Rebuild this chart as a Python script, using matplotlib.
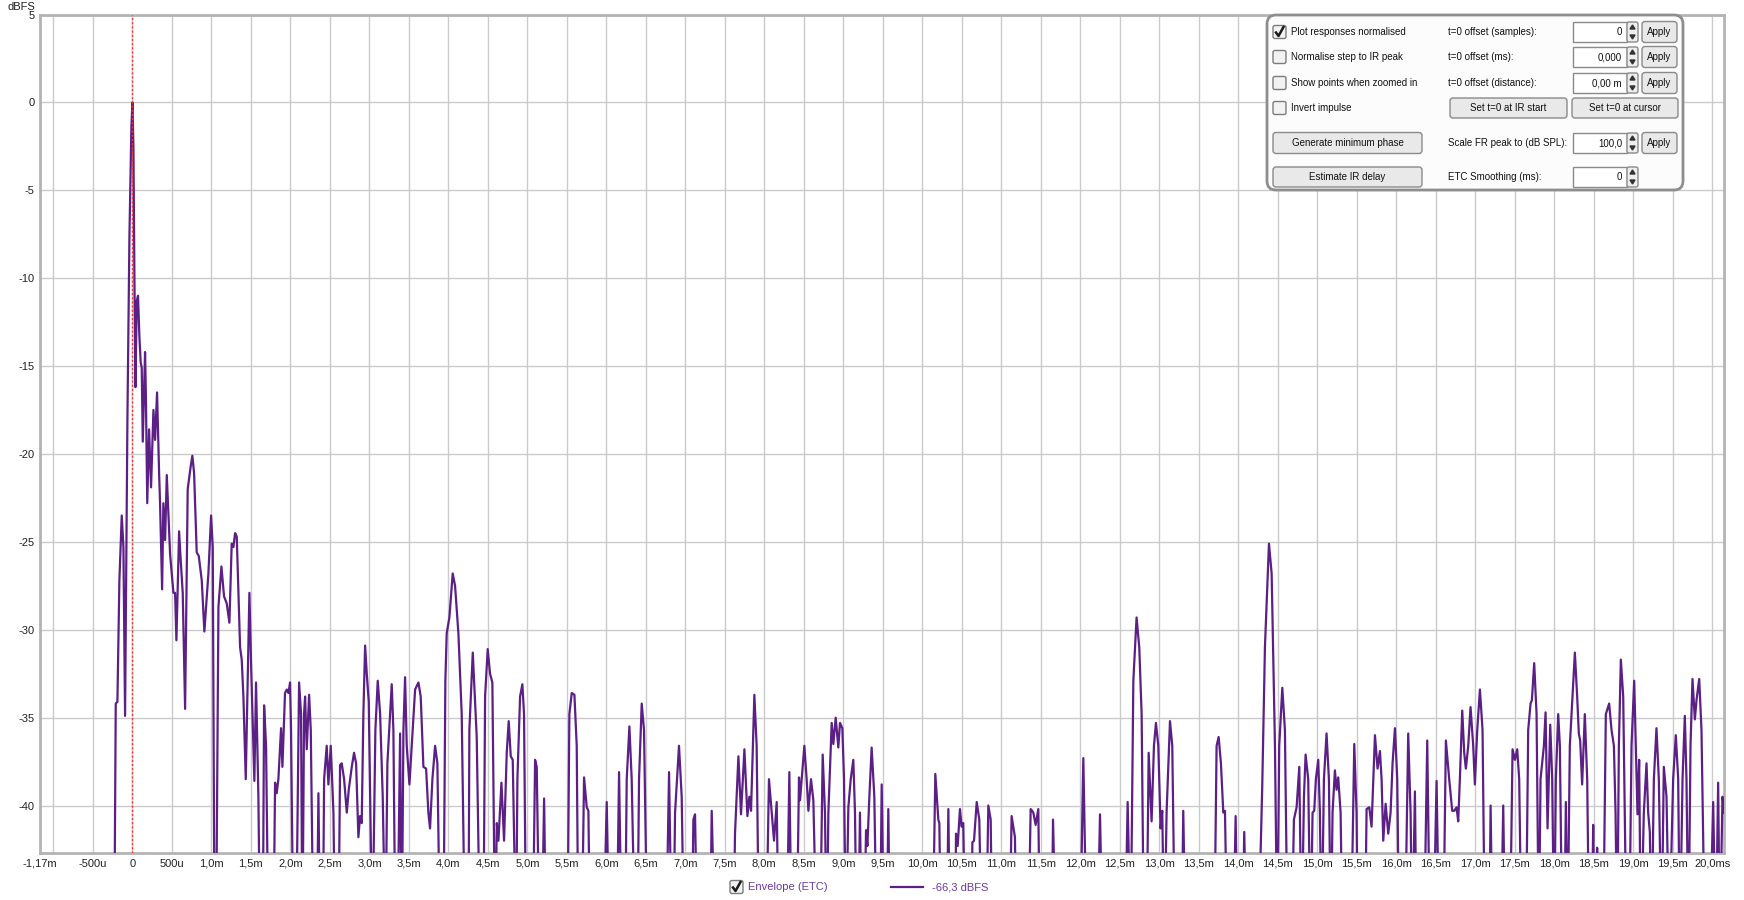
import numpy as np
import matplotlib.pyplot as plt
from matplotlib.patches import FancyBboxPatch, Polygon

# Envelope (ETC) readings: (time in ms, level in dBFS); -48 means "below the plot floor"
etc_early = [
    (-1.17, -48), (-0.23, -48), (-0.211, -34.2), (-0.19, -34.1), (-0.165, -27.2), (-0.135, -23.5),
    (-0.114, -25.3), (-0.093, -34.9), (-0.063, -17.9), (-0.038, -7.7), (-0.013, -1.4), (0.0, 0.0),
    (0.013, -2.6), (0.025, -9.7), (0.038, -16.2), (0.055, -11.3), (0.071, -11.0), (0.088, -13.3),
    (0.105, -14.8), (0.118, -15.1), (0.131, -19.3), (0.160, -14.2), (0.170, -16.5), (0.188, -22.8),
    (0.211, -18.6), (0.236, -21.9), (0.266, -17.5), (0.287, -19.2), (0.312, -16.5), (0.338, -21.1),
    (0.350, -22.8), (0.376, -27.7), (0.392, -22.8), (0.414, -24.9), (0.435, -21.2), (0.477, -25.7),
    (0.519, -27.9), (0.540, -27.9), (0.557, -30.6), (0.591, -24.4), (0.612, -26.1), (0.637, -27.9),
    (0.667, -34.5), (0.700, -22.0), (0.717, -21.4), (0.738, -20.7), (0.759, -20.1), (0.781, -21.1),
    (0.814, -25.6), (0.840, -25.8), (0.878, -27.2), (0.911, -30.1), (0.962, -26.8), (0.996, -23.5),
    (1.017, -25.3), (1.040, -48), (1.059, -48), (1.089, -28.7), (1.127, -26.4), (1.160, -28.1),
    (1.194, -28.5), (1.228, -29.6), (1.257, -25.1), (1.278, -25.3), (1.300, -24.5), (1.321, -24.7),
    (1.363, -31.0), (1.384, -31.7), (1.405, -33.8), (1.435, -38.5), (1.460, -32.9), (1.481, -27.9),
    (1.502, -31.9), (1.544, -38.6), (1.565, -33.0), (1.595, -39.5), (1.616, -48), (1.650, -48),
    (1.667, -34.3), (1.692, -36.6), (1.722, -48), (1.785, -48), (1.806, -38.7), (1.827, -39.3),
    (1.848, -38.5), (1.882, -35.6), (1.899, -37.8), (1.932, -33.6), (1.954, -33.4), (1.975, -33.6),
    (1.996, -33.0), (2.008, -35.7), (2.038, -48), (2.072, -48),
]
etc_2_4ms = [
    (2.110, -33.0), (2.135, -34.8), (2.152, -48), (2.173, -34.8), (2.186, -33.8), (2.207, -36.8),
    (2.237, -33.7), (2.258, -35.7), (2.292, -48), (2.334, -48), (2.355, -39.3), (2.376, -48),
    (2.410, -48), (2.427, -38.5), (2.460, -36.6), (2.481, -38.8), (2.511, -36.6), (2.545, -40.4),
    (2.566, -48), (2.608, -48), (2.629, -37.7), (2.650, -37.6), (2.680, -38.5), (2.714, -40.4),
    (2.739, -39.1), (2.777, -37.8), (2.806, -37.0), (2.832, -37.6), (2.861, -41.8), (2.882, -40.6),
    (2.903, -41.0), (2.924, -34.8), (2.946, -30.9), (2.967, -32.5), (2.992, -34.1), (3.038, -48),
    (3.076, -35.7), (3.106, -32.9), (3.136, -34.8), (3.169, -39.5), (3.203, -48), (3.228, -37.6),
    (3.283, -33.1), (3.304, -35.7), (3.330, -48), (3.355, -48), (3.389, -35.9), (3.410, -48),
    (3.431, -35.7), (3.452, -32.7), (3.473, -36.6), (3.507, -38.8), (3.536, -36.6), (3.579, -33.4),
    (3.621, -33.0), (3.650, -33.8), (3.684, -37.8), (3.718, -37.9), (3.747, -40.4), (3.768, -41.3),
    (3.798, -38.5), (3.832, -36.6), (3.861, -37.6), (3.895, -48), (3.937, -48), (3.962, -32.9),
    (3.979, -30.2), (4.013, -29.3), (4.055, -26.8), (4.085, -27.5), (4.127, -30.2), (4.169, -34.8),
    (4.211, -48),
]
etc_4_8ms = [
    (4.254, -48), (4.266, -35.7), (4.309, -31.3), (4.359, -36.1), (4.401, -48), (4.443, -48),
    (4.465, -33.8), (4.498, -31.1), (4.528, -32.5), (4.557, -33.0), (4.592, -48), (4.613, -41.0),
    (4.634, -42.0), (4.672, -38.7), (4.705, -42.0), (4.739, -37.0), (4.764, -35.2), (4.790, -37.2),
    (4.815, -37.4), (4.857, -48), (4.874, -38.5), (4.908, -33.8), (4.937, -33.1), (4.958, -34.8),
    (4.984, -48), (5.068, -48), (5.098, -37.4), (5.119, -37.8), (5.152, -48), (5.182, -48),
    (5.212, -39.6), (5.237, -48), (5.507, -48), (5.532, -34.8), (5.562, -33.6), (5.596, -33.7),
    (5.625, -36.6), (5.646, -48), (5.688, -48), (5.718, -38.4), (5.752, -40.1), (5.773, -40.3),
    (5.794, -48), (5.962, -48), (6.005, -39.8), (6.038, -48), (6.131, -48), (6.161, -38.1),
    (6.195, -48), (6.237, -48), (6.258, -38.5), (6.292, -35.5), (6.321, -38.5), (6.363, -48),
    (6.393, -48), (6.414, -38.5), (6.448, -34.2), (6.477, -35.7), (6.519, -48), (6.756, -48),
    (6.794, -38.1), (6.828, -48), (6.849, -48), (6.870, -40.4), (6.920, -36.6), (6.954, -39.5),
    (6.984, -48), (7.081, -48), (7.102, -40.8), (7.123, -40.5), (7.152, -48), (7.313, -48),
    (7.334, -40.3), (7.376, -48), (7.608, -48), (7.629, -41.6), (7.672, -37.2), (7.705, -40.5),
    (7.748, -36.8), (7.786, -40.6), (7.811, -39.5), (7.832, -40.3), (7.874, -33.7), (7.903, -36.6),
    (7.933, -48), (8.022, -48), (8.059, -38.5), (8.093, -40.4), (8.123, -42.0), (8.157, -39.8),
    (8.182, -48),
]
etc_8_13ms = [
    (8.283, -48), (8.317, -38.1), (8.347, -48), (8.410, -48), (8.439, -38.4), (8.452, -39.7),
    (8.473, -38.5), (8.507, -36.6), (8.536, -38.5), (8.558, -40.3), (8.591, -38.5), (8.621, -39.7),
    (8.663, -48), (8.705, -48), (8.739, -37.1), (8.768, -40.4), (8.790, -48), (8.811, -40.4),
    (8.853, -35.3), (8.874, -36.5), (8.904, -35.0), (8.937, -36.7), (8.958, -35.3), (8.988, -35.6),
    (9.009, -38.5), (9.034, -48), (9.064, -40.1), (9.094, -38.5), (9.127, -37.4), (9.148, -40.4),
    (9.169, -48), (9.190, -48), (9.211, -40.4), (9.233, -48), (9.262, -48), (9.288, -41.4),
    (9.305, -42.3), (9.330, -39.5), (9.359, -36.7), (9.393, -39.5), (9.423, -48), (9.465, -48),
    (9.486, -38.8), (9.515, -48), (9.549, -48), (9.570, -40.2), (9.591, -48), (10.131, -48),
    (10.165, -38.2), (10.203, -40.8), (10.216, -41.0), (10.237, -48), (10.309, -48), (10.330, -40.2),
    (10.351, -48), (10.414, -48), (10.427, -41.6), (10.448, -42.3), (10.477, -40.2), (10.498, -41.2),
    (10.519, -41.0), (10.545, -48), (10.625, -48), (10.634, -42.1), (10.655, -42.0), (10.689, -39.8),
    (10.722, -40.8), (10.752, -48), (10.807, -48), (10.836, -40.0), (10.866, -40.8), (10.887, -48),
    (11.102, -48), (11.131, -40.6), (11.173, -41.8), (11.194, -48), (11.342, -48), (11.372, -40.2),
    (11.406, -40.4), (11.435, -41.1), (11.469, -40.2), (11.490, -48), (11.638, -48), (11.655, -40.8),
    (11.693, -48), (11.997, -48), (12.039, -37.3), (12.081, -48), (12.216, -48), (12.250, -40.5),
    (12.283, -48), (12.566, -48), (12.600, -39.8), (12.638, -48), (12.672, -32.9), (12.713, -29.3),
]
etc_13_16ms = [
    (12.747, -31.0), (12.777, -34.8), (12.806, -48), (12.840, -48), (12.866, -37.0), (12.903, -40.9),
    (12.933, -36.6), (12.958, -35.3), (12.988, -36.6), (13.017, -41.3), (13.038, -40.3), (13.064, -48),
    (13.093, -40.4), (13.136, -35.2), (13.165, -36.6), (13.199, -48), (13.283, -48), (13.304, -40.3),
    (13.334, -48), (13.697, -48), (13.726, -36.6), (13.752, -36.1), (13.781, -37.6), (13.811, -40.4),
    (13.832, -40.3), (13.861, -48), (13.937, -48), (13.967, -40.6), (13.992, -48), (14.055, -48),
    (14.076, -41.5), (14.106, -48), (14.254, -48), (14.304, -38.9), (14.338, -31.0), (14.389, -25.1),
    (14.423, -26.8), (14.465, -36.6), (14.494, -48), (14.519, -36.6), (14.558, -33.3), (14.591, -35.7),
    (14.625, -48), (14.676, -48), (14.705, -40.8), (14.739, -40.1), (14.773, -37.8), (14.802, -48),
    (14.832, -39.5), (14.853, -37.1), (14.886, -38.5), (14.916, -48), (14.941, -40.4), (14.962, -40.3),
    (14.983, -38.5), (15.013, -37.4), (15.034, -40.4), (15.055, -48), (15.085, -38.5), (15.118, -35.9),
    (15.148, -38.5), (15.173, -48), (15.194, -40.4), (15.224, -38.0), (15.245, -39.1), (15.266, -38.4),
    (15.296, -40.4), (15.321, -48), (15.427, -48), (15.469, -36.5), (15.498, -40.4), (15.515, -48),
    (15.604, -48), (15.625, -40.2), (15.659, -40.1), (15.688, -41.2), (15.710, -38.5), (15.731, -36.0),
    (15.764, -37.9), (15.794, -36.9), (15.815, -38.5), (15.836, -42.0), (15.866, -39.9), (15.899, -41.6),
    (15.929, -40.4), (15.954, -37.6), (15.984, -35.6), (16.013, -38.5), (16.038, -48), (16.110, -48),
    (16.152, -35.9), (16.182, -40.4), (16.203, -48), (16.237, -39.2), (16.258, -48),
]
etc_late = [
    (16.351, -48), (16.393, -36.3), (16.427, -48), (16.469, -48), (16.511, -38.6), (16.545, -48),
    (16.595, -48), (16.629, -36.3), (16.671, -38.5), (16.709, -40.3), (16.735, -40.3), (16.764, -40.1),
    (16.785, -40.9), (16.806, -38.5), (16.836, -34.6), (16.861, -37.0), (16.882, -37.9), (16.912, -36.6),
    (16.941, -34.4), (16.975, -36.6), (16.996, -38.8), (17.026, -35.7), (17.060, -33.4), (17.093, -35.7),
    (17.123, -48), (17.178, -48), (17.195, -40.0), (17.220, -48), (17.325, -48), (17.355, -40.0),
    (17.380, -48), (17.439, -48), (17.473, -36.8), (17.503, -37.4), (17.532, -36.8), (17.557, -38.5),
    (17.587, -48), (17.642, -48), (17.671, -35.7), (17.701, -34.2), (17.718, -34.0), (17.747, -31.9),
    (17.777, -34.8), (17.806, -48), (17.827, -38.5), (17.870, -36.6), (17.891, -34.7), (17.916, -41.3),
    (17.950, -35.4), (17.975, -38.5), (18.000, -48), (18.021, -38.5), (18.051, -34.8), (18.072, -36.6),
    (18.102, -48), (18.127, -48), (18.148, -39.8), (18.169, -48), (18.198, -36.6), (18.232, -33.8),
    (18.262, -31.3), (18.291, -33.8), (18.312, -35.9), (18.329, -36.3), (18.354, -38.8), (18.388, -34.8),
    (18.418, -38.5), (18.443, -48), (18.473, -48), (18.494, -41.1), (18.515, -48), (18.544, -42.4),
    (18.561, -48), (18.620, -48), (18.654, -34.8), (18.696, -34.2), (18.726, -35.7), (18.756, -36.6),
    (18.777, -40.4), (18.798, -48), (18.819, -36.6), (18.844, -31.7), (18.874, -33.8), (18.916, -48),
    (18.950, -48), (18.979, -36.6), (19.013, -32.9), (19.034, -36.6), (19.055, -40.5), (19.076, -37.4),
    (19.097, -48), (19.135, -40.4), (19.169, -37.6), (19.190, -40.4), (19.211, -41.5), (19.232, -48),
    (19.262, -38.5), (19.295, -35.6), (19.325, -38.5), (19.359, -48), (19.388, -37.8), (19.422, -39.5),
    (19.456, -48), (19.506, -38.5), (19.540, -36.0), (19.570, -38.5), (19.591, -48), (19.625, -38.5),
    (19.654, -34.9), (19.675, -38.5), (19.700, -48), (19.726, -36.6), (19.751, -32.8), (19.781, -35.1),
    (19.802, -34.0), (19.836, -32.8), (19.865, -35.7), (19.908, -48), (19.970, -48), (20.013, -39.8),
    (20.046, -48), (20.076, -38.7), (20.097, -48), (20.131, -39.5), (20.152, -40.4),
]

ytick_values = [5, 0, -5, -10, -15, -20, -25, -30, -35, -40]
xtick_values = [-1.17, -1.0, -0.5, 0.0, 0.5, 1.0, 1.5, 2.0, 2.5, 3.0, 3.5, 4.0, 4.5, 5.0, 5.5, 6.0,
                6.5, 7.0, 7.5, 8.0, 8.5, 9.0, 9.5, 10.0, 10.5, 11.0, 11.5, 12.0, 12.5, 13.0, 13.5,
                14.0, 14.5, 15.0, 15.5, 16.0, 16.5, 17.0, 17.5, 18.0, 18.5, 19.0, 19.5, 20.0]
xtick_labels = ["-1,17m", "", "-500u", "0", "500u", "1,0m", "1,5m", "2,0m", "2,5m", "3,0m", "3,5m",
                "4,0m", "4,5m", "5,0m", "5,5m", "6,0m", "6,5m", "7,0m", "7,5m", "8,0m", "8,5m",
                "9,0m", "9,5m", "10,0m", "10,5m", "11,0m", "11,5m", "12,0m", "12,5m", "13,0m",
                "13,5m", "14,0m", "14,5m", "15,0m", "15,5m", "16,0m", "16,5m", "17,0m", "17,5m",
                "18,0m", "18,5m", "19,0m", "19,5m", "20,0ms"]

TRACE = '#5b1f86'
W, H = 1744, 900
PANEL_FS = 7.0

plt.rcParams['font.family'] = ['Liberation Sans', 'DejaVu Sans']
plt.rcParams['font.size'] = 8

etc = etc_early + etc_2_4ms + etc_4_8ms + etc_8_13ms + etc_13_16ms + etc_late
t_ms = np.array([p[0] for p in etc])
level_db = np.array([p[1] for p in etc])

fig = plt.figure(figsize=(W / 100, H / 100), dpi=100, facecolor='white')
ax = fig.add_axes([40 / W, 1 - 853 / H, (1724 - 40) / W, (853 - 14.5) / H])

ax.plot(t_ms, level_db, color=TRACE, lw=1.6, solid_joinstyle='round', zorder=3)
ax.axvline(0, color='#ff3030', lw=1, ls=(0, (1.5, 1.5)), zorder=4)

ax.set_xlim(-1.17, 20.15)
ax.set_ylim(-42.7, 5)
ax.set_xticks(xtick_values)
ax.set_xticklabels(xtick_labels)
ax.set_yticks(ytick_values)
ax.set_yticklabels([str(v) for v in ytick_values])
ax.grid(True, color='#cbcbcb', lw=1)
ax.set_axisbelow(True)
ax.tick_params(length=0, labelsize=8, colors='#222222', pad=4)
for s in ax.spines.values():
    s.set_color('#b4b4b4')
    s.set_linewidth(2)

fig.text(35 / W, 1 - 7 / H, 'dBFS', ha='right', va='center', color='#222222')

# overlay in pixel coordinates for the control panel and legend
ui = fig.add_axes([0, 0, 1, 1], zorder=5)
ui.set_xlim(0, W)
ui.set_ylim(H, 0)
ui.axis('off')


def rbox(x0, y0, x1, y1, fc, ec, r=3, lw=1.0):
    ui.add_patch(FancyBboxPatch((x0, y0), x1 - x0, y1 - y0,
                                boxstyle=f"round,pad=0,rounding_size={r}",
                                fc=fc, ec=ec, lw=lw))


def checkbox(x, yc, checked):
    rbox(x, yc - 6.5, x + 13, yc + 6.5, '#f2f2f2', '#7c7c7c', r=2, lw=1)
    if checked:
        ui.plot([x + 3, x + 5.5, x + 10.5], [yc + 0.5, yc + 4, yc - 5], color='#1a1a1a', lw=1.8)


def button(x0, x1, yc, h, label):
    rbox(x0, yc - h / 2, x1, yc + h / 2, '#e9e9e9', '#8a8a8a', r=3)
    ui.text((x0 + x1) / 2, yc, label, ha='center', va='center', color='#111111', fontsize=PANEL_FS)


def spinbox(yc, value):
    ui.add_patch(plt.Rectangle((1573, yc - 10), 54, 20, fc='white', ec='#8a8a8a', lw=1))
    rbox(1627, yc - 10, 1638, yc + 10, '#eeeeee', '#8a8a8a', r=2)
    ui.add_patch(Polygon([(1630, yc - 3), (1635, yc - 3), (1632.5, yc - 7)], color='#333333'))
    ui.add_patch(Polygon([(1630, yc + 3), (1635, yc + 3), (1632.5, yc + 7)], color='#333333'))
    ui.text(1622, yc, value, ha='right', va='center', color='#111111', fontsize=PANEL_FS)


rbox(1267, 15, 1683, 190, '#fcfcfc', '#8e8e8e', r=9, lw=2)

check_rows = [("Plot responses normalised", True, 32), ("Normalise step to IR peak", False, 57),
              ("Show points when zoomed in", False, 83), ("Invert impulse", False, 108)]
for label, checked, yc in check_rows:
    checkbox(1273, yc, checked)
    ui.text(1291, yc, label, ha='left', va='center', color='#111111', fontsize=PANEL_FS)

spin_rows = [("t=0 offset (samples):", "0", True, 32), ("t=0 offset (ms):", "0,000", True, 57),
             ("t=0 offset (distance):", "0,00 m", True, 83),
             ("Scale FR peak to (dB SPL):", "100,0", True, 143),
             ("ETC Smoothing (ms):", "0", False, 177)]
for label, value, has_apply, yc in spin_rows:
    ui.text(1448, yc, label, ha='left', va='center', color='#111111', fontsize=PANEL_FS)
    spinbox(yc, value)
    if has_apply:
        button(1642, 1677, yc, 21, "Apply")

button(1450, 1567, 108, 20, "Set t=0 at IR start")
button(1572, 1678, 108, 20, "Set t=0 at cursor")
button(1273, 1422, 143, 21, "Generate minimum phase")
button(1273, 1422, 177, 20, "Estimate IR delay")

# legend under the plot
checkbox(730, 887, True)
ui.text(748, 887, "Envelope (ETC)", ha='left', va='center', color='#6a3a9c')
ui.plot([891, 923], [887, 887], color=TRACE, lw=1.6)
ui.text(932, 887, "-66,3 dBFS", ha='left', va='center', color='#6a3a9c')

fig.savefig('out.png', dpi=100, facecolor='white')
